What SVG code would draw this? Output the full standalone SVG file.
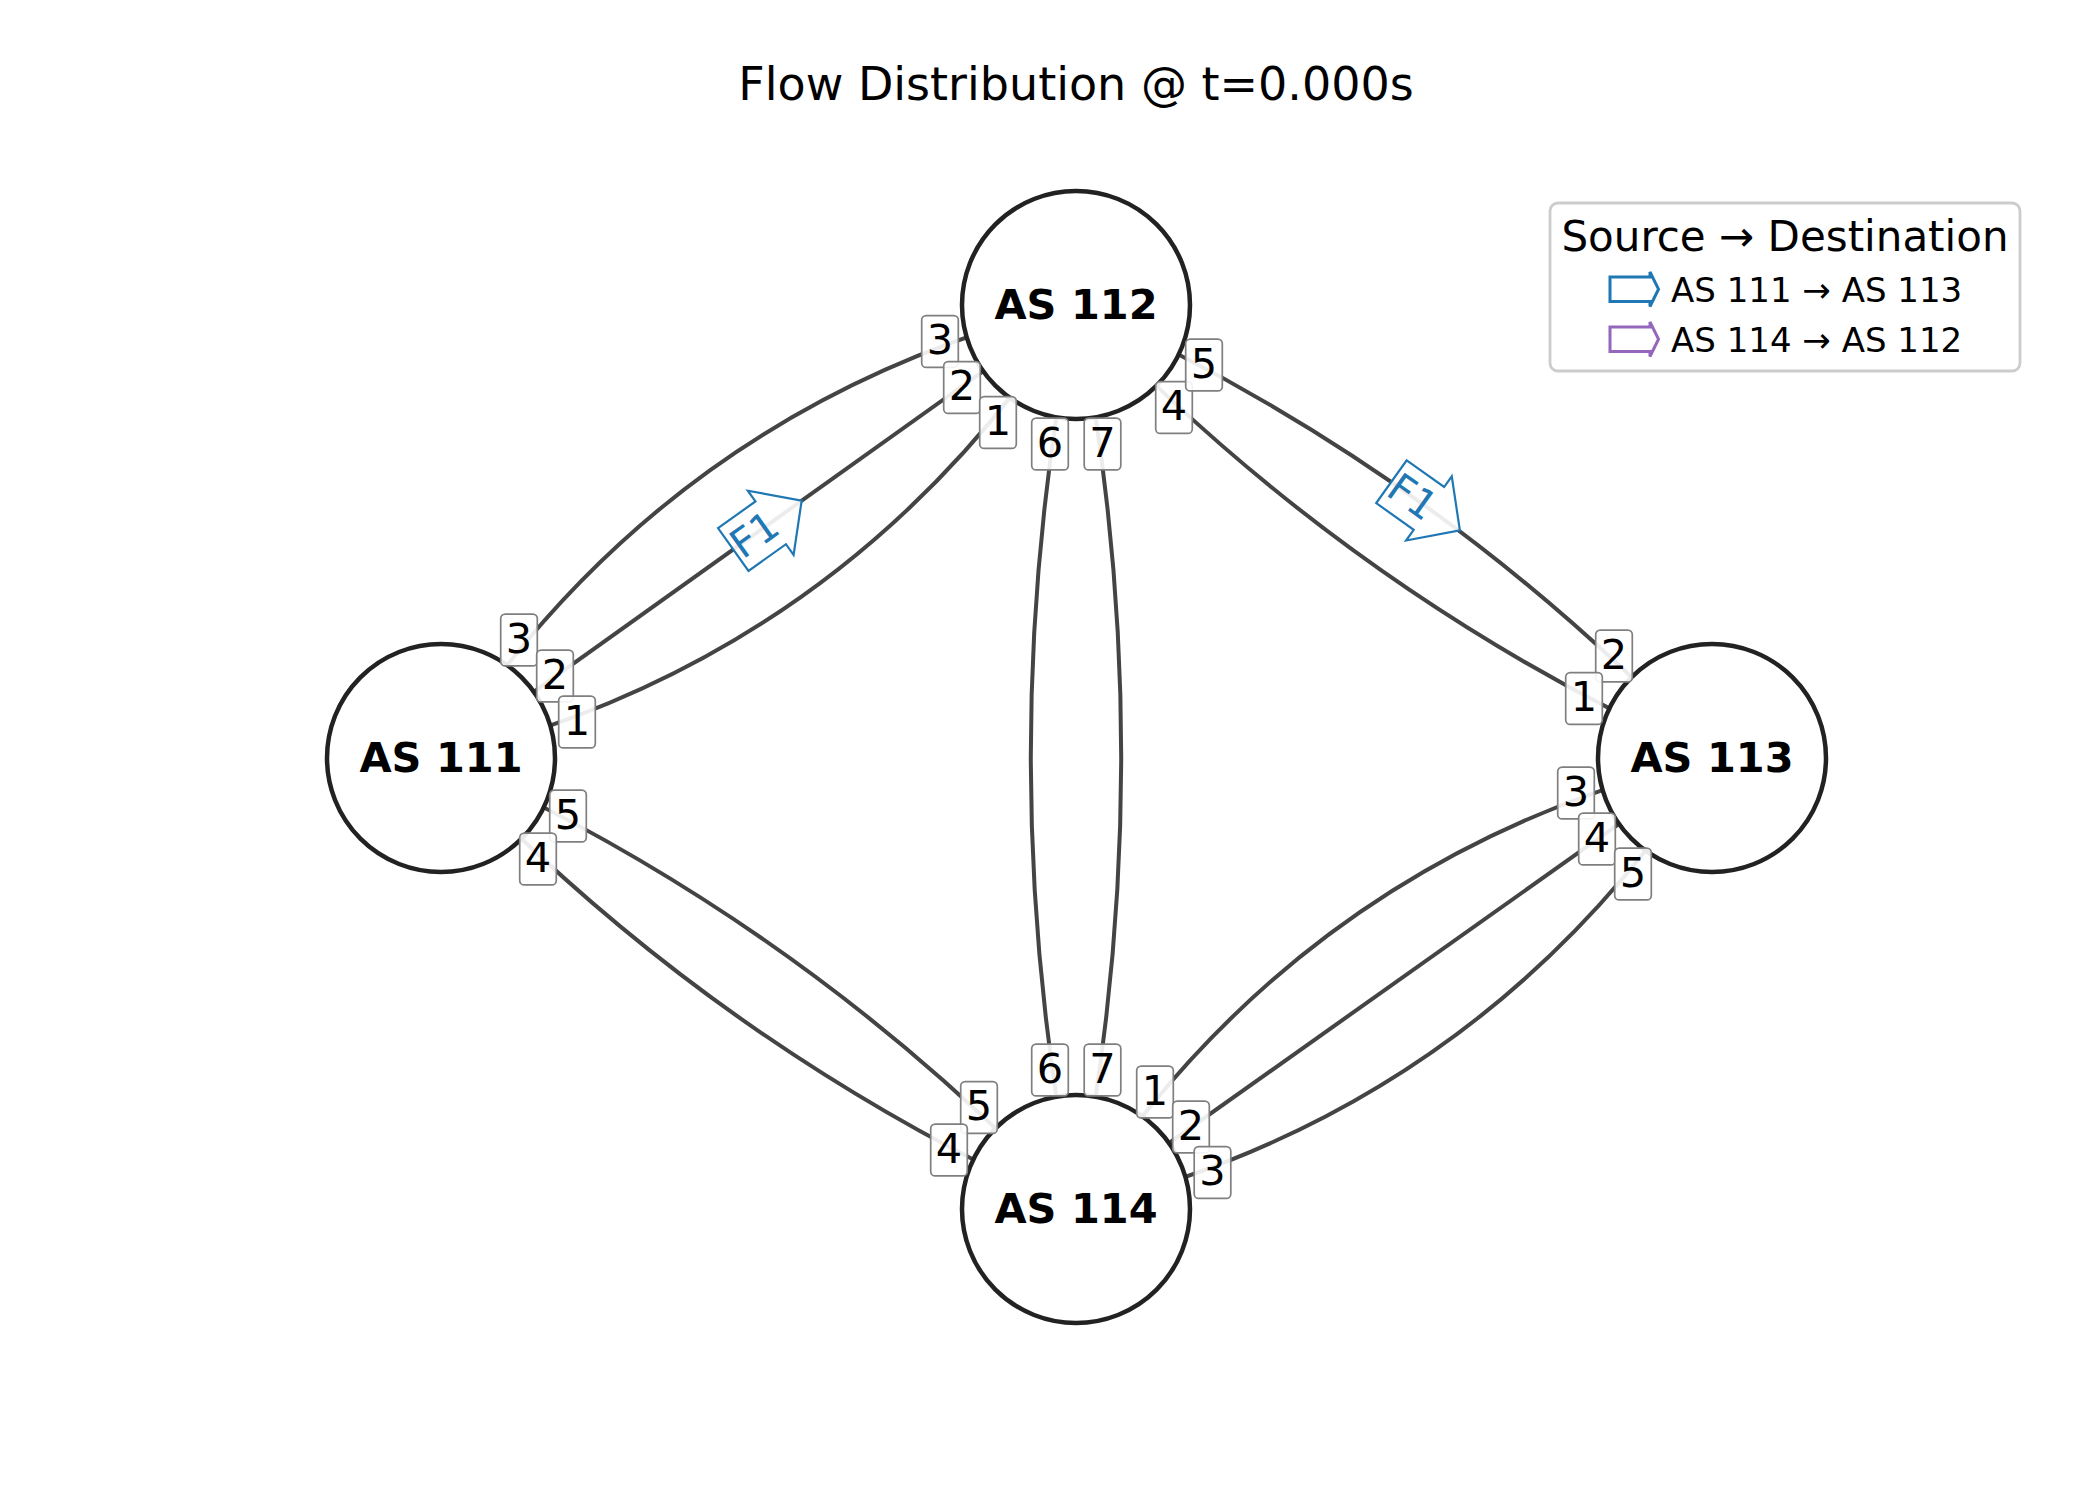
<svg xmlns="http://www.w3.org/2000/svg" width="2100" height="1500" viewBox="0 0 2100 1500">
  <style>
    .edge { fill: none; stroke: #444; stroke-width: 4; }
    .node circle { fill: #fff; stroke: #222; stroke-width: 4.5; }
    .node text { font-family: "DejaVu Sans", "Liberation Sans", sans-serif; font-weight: bold; font-size: 41.5px; text-anchor: middle; fill: #000; }
    .port rect { fill: #fff; fill-opacity: 0.9; stroke: #7f7f7f; stroke-width: 1.7; }
    .port text { font-family: "DejaVu Sans", "Liberation Sans", sans-serif; font-size: 41.5px; text-anchor: middle; fill: #000; }
    .flow path { fill: #fff; fill-opacity: 0.9; stroke: #1f77b4; stroke-width: 2.2; stroke-linejoin: miter; }
    .flow text { font-family: "DejaVu Sans Mono", "Liberation Mono", monospace; font-size: 40px; text-anchor: middle; fill: #1f77b4; }
    .title { font-family: "DejaVu Sans", "Liberation Sans", sans-serif; font-size: 46px; text-anchor: middle; fill: #000; }
    .legend-title { font-family: "DejaVu Sans", "Liberation Sans", sans-serif; font-size: 42px; text-anchor: middle; fill: #000; }
    .legend-text { font-family: "DejaVu Sans", "Liberation Sans", sans-serif; font-size: 34px; fill: #000; }
  </style>

  <rect width="2100" height="1500" fill="#fff"/>

  <text class="title" x="1076" y="99.5">Flow Distribution @ t=0.000s</text>

  <!-- links between AS nodes, drawn centre to centre under the node discs -->
  <g id="edges">
    <path class="edge" d="M441,758 Q667.9,404.5 1076,305"/>
    <path class="edge" d="M441,758 L1076,305"/>
    <path class="edge" d="M441,758 Q849.1,658.5 1076,305"/>
    <path class="edge" d="M1076,305 Q1439.3,467.9 1712,758"/>
    <path class="edge" d="M1076,305 Q1348.7,595.1 1712,758"/>
    <path class="edge" d="M1076,305 Q985.6,757 1076,1209"/>
    <path class="edge" d="M1076,305 Q1166.4,757 1076,1209"/>
    <path class="edge" d="M441,758 Q803.6,920 1076,1209"/>
    <path class="edge" d="M441,758 Q713.4,1047 1076,1209"/>
    <path class="edge" d="M1712,758 Q1303.8,856.3 1076,1209"/>
    <path class="edge" d="M1712,758 L1076,1209"/>
    <path class="edge" d="M1712,758 Q1484.2,1110.7 1076,1209"/>
  </g>

  <!-- flow markers -->
  <g id="flow-f1-a" class="flow" transform="translate(758.5,531.5) rotate(-35.5)">
    <path d="M-31,-26.25 L15,-26.25 L15,-39.4 L53,0 L15,39.4 L15,26.25 L-31,26.25 Z"/>
    <text x="-6" y="14">F1</text>
  </g>
  <g id="flow-f1-b" class="flow" transform="translate(1416.7,499.7) rotate(35.46)">
    <path d="M-31,-26.25 L15,-26.25 L15,-39.4 L53,0 L15,39.4 L15,26.25 L-31,26.25 Z"/>
    <text x="-6" y="14">F1</text>
  </g>

  <!-- AS nodes -->
  <g id="as111" class="node"><circle cx="441" cy="758" r="114"/><text x="441" y="772">AS 111</text></g>
  <g id="as112" class="node"><circle cx="1076" cy="305" r="114"/><text x="1076" y="319">AS 112</text></g>
  <g id="as113" class="node"><circle cx="1712" cy="758" r="114"/><text x="1712" y="772">AS 113</text></g>
  <g id="as114" class="node"><circle cx="1076" cy="1209" r="114"/><text x="1076" y="1223">AS 114</text></g>

  <!-- port numbers at each link end -->
  <g id="ports">
    <g id="p111-3" class="port" transform="translate(519,640)"><rect x="-18.3" y="-25.9" width="36.6" height="51.8" rx="4.5"/><text y="12.5">3</text></g>
    <g id="p111-2" class="port" transform="translate(555,676)"><rect x="-18.3" y="-25.9" width="36.6" height="51.8" rx="4.5"/><text y="12.5">2</text></g>
    <g id="p111-1" class="port" transform="translate(577,722)"><rect x="-18.3" y="-25.9" width="36.6" height="51.8" rx="4.5"/><text y="12.5">1</text></g>
    <g id="p111-5" class="port" transform="translate(568,816)"><rect x="-18.3" y="-25.9" width="36.6" height="51.8" rx="4.5"/><text y="12.5">5</text></g>
    <g id="p111-4" class="port" transform="translate(538,859)"><rect x="-18.3" y="-25.9" width="36.6" height="51.8" rx="4.5"/><text y="12.5">4</text></g>

    <g id="p112-3" class="port" transform="translate(940,341.5)"><rect x="-18.3" y="-25.9" width="36.6" height="51.8" rx="4.5"/><text y="12.5">3</text></g>
    <g id="p112-2" class="port" transform="translate(962,387.5)"><rect x="-18.3" y="-25.9" width="36.6" height="51.8" rx="4.5"/><text y="12.5">2</text></g>
    <g id="p112-1" class="port" transform="translate(998,422.5)"><rect x="-18.3" y="-25.9" width="36.6" height="51.8" rx="4.5"/><text y="12.5">1</text></g>
    <g id="p112-6" class="port" transform="translate(1050,444)"><rect x="-18.3" y="-25.9" width="36.6" height="51.8" rx="4.5"/><text y="12.5">6</text></g>
    <g id="p112-7" class="port" transform="translate(1102.5,444)"><rect x="-18.3" y="-25.9" width="36.6" height="51.8" rx="4.5"/><text y="12.5">7</text></g>
    <g id="p112-4" class="port" transform="translate(1174,407.5)"><rect x="-18.3" y="-25.9" width="36.6" height="51.8" rx="4.5"/><text y="12.5">4</text></g>
    <g id="p112-5" class="port" transform="translate(1204,365)"><rect x="-18.3" y="-25.9" width="36.6" height="51.8" rx="4.5"/><text y="12.5">5</text></g>

    <g id="p113-2" class="port" transform="translate(1614,656)"><rect x="-18.3" y="-25.9" width="36.6" height="51.8" rx="4.5"/><text y="12.5">2</text></g>
    <g id="p113-1" class="port" transform="translate(1584,698.5)"><rect x="-18.3" y="-25.9" width="36.6" height="51.8" rx="4.5"/><text y="12.5">1</text></g>
    <g id="p113-3" class="port" transform="translate(1576,793)"><rect x="-18.3" y="-25.9" width="36.6" height="51.8" rx="4.5"/><text y="12.5">3</text></g>
    <g id="p113-4" class="port" transform="translate(1597,839)"><rect x="-18.3" y="-25.9" width="36.6" height="51.8" rx="4.5"/><text y="12.5">4</text></g>
    <g id="p113-5" class="port" transform="translate(1633,874)"><rect x="-18.3" y="-25.9" width="36.6" height="51.8" rx="4.5"/><text y="12.5">5</text></g>

    <g id="p114-5" class="port" transform="translate(979,1107.5)"><rect x="-18.3" y="-25.9" width="36.6" height="51.8" rx="4.5"/><text y="12.5">5</text></g>
    <g id="p114-4" class="port" transform="translate(949,1150)"><rect x="-18.3" y="-25.9" width="36.6" height="51.8" rx="4.5"/><text y="12.5">4</text></g>
    <g id="p114-6" class="port" transform="translate(1050,1070)"><rect x="-18.3" y="-25.9" width="36.6" height="51.8" rx="4.5"/><text y="12.5">6</text></g>
    <g id="p114-7" class="port" transform="translate(1102.5,1070)"><rect x="-18.3" y="-25.9" width="36.6" height="51.8" rx="4.5"/><text y="12.5">7</text></g>
    <g id="p114-1" class="port" transform="translate(1155,1092)"><rect x="-18.3" y="-25.9" width="36.6" height="51.8" rx="4.5"/><text y="12.5">1</text></g>
    <g id="p114-2" class="port" transform="translate(1191,1127)"><rect x="-18.3" y="-25.9" width="36.6" height="51.8" rx="4.5"/><text y="12.5">2</text></g>
    <g id="p114-3" class="port" transform="translate(1212.5,1172.5)"><rect x="-18.3" y="-25.9" width="36.6" height="51.8" rx="4.5"/><text y="12.5">3</text></g>
  </g>

  <!-- legend -->
  <g id="legend">
    <rect x="1550" y="203" width="470" height="168" rx="8" fill="#fff" fill-opacity="0.8" stroke="#ccc" stroke-width="2.8"/>
    <text class="legend-title" x="1785" y="250.7">Source → Destination</text>
    <path d="M1610,277 H1650 V272 L1658.5,289.2 L1650,306.5 V301.5 H1610 Z" fill="#fff" stroke="#1f77b4" stroke-width="3"/>
    <text class="legend-text" x="1671" y="301.7">AS 111 → AS 113</text>
    <path d="M1610,327 H1650 V322 L1658.5,339.2 L1650,356.5 V351.5 H1610 Z" fill="#fff" stroke="#9467bd" stroke-width="3"/>
    <text class="legend-text" x="1671" y="351.7">AS 114 → AS 112</text>
  </g>
</svg>
